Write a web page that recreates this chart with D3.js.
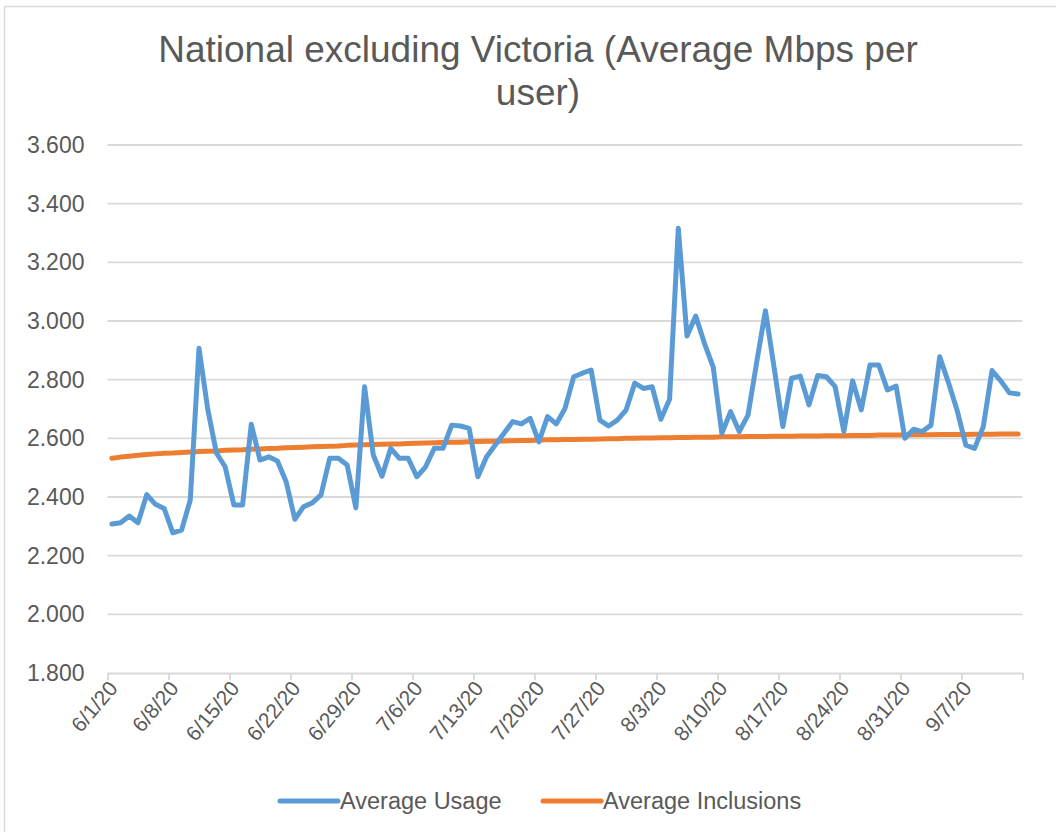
<!DOCTYPE html>
<html>
<head>
<meta charset="utf-8">
<script src="https://cdn.jsdelivr.net/npm/d3@7"></script>
<style>
  html, body { margin: 0; padding: 0; background: #ffffff; }
  svg { display: block; font-family: "Liberation Sans", Arial, sans-serif; }
</style>
</head>
<body>
<svg id="chart" width="1056" height="832"></svg>
<script>
// ---- data ----
const startDate = "2020-06-01";
const seriesNames = ["Average Usage", "Average Inclusions"];
const averageUsage = [
  2.308, 2.312, 2.335, 2.312, 2.408, 2.375, 2.361, 2.278, 2.287, 2.390,
  2.907, 2.700, 2.550, 2.503, 2.373, 2.373, 2.648, 2.526, 2.537, 2.523,
  2.452, 2.324, 2.367, 2.380, 2.407, 2.532, 2.532, 2.509, 2.363, 2.776,
  2.543, 2.471, 2.566, 2.532, 2.532, 2.469, 2.503, 2.566, 2.566, 2.645,
  2.642, 2.634, 2.469, 2.537, 2.577, 2.617, 2.657, 2.649, 2.668, 2.588,
  2.674, 2.649, 2.702, 2.810, 2.822, 2.833, 2.662, 2.642, 2.662, 2.696,
  2.788, 2.770, 2.776, 2.665, 2.733, 3.316, 2.949, 3.017, 2.924, 2.844,
  2.617, 2.691, 2.623, 2.679, 2.860, 3.035, 2.840, 2.640, 2.805, 2.812,
  2.714, 2.814, 2.810, 2.776, 2.623, 2.796, 2.697, 2.850, 2.850, 2.765,
  2.778, 2.600, 2.631, 2.623, 2.645, 2.878, 2.790, 2.695, 2.577, 2.566,
  2.640, 2.831, 2.796, 2.755, 2.751
];
const averageInclusions = [
  2.532, 2.536, 2.539, 2.542, 2.545, 2.547, 2.549,
  2.550, 2.552, 2.553, 2.555, 2.556, 2.557, 2.559,
  2.560, 2.561, 2.563, 2.564, 2.565, 2.566, 2.568,
  2.569, 2.570, 2.571, 2.572, 2.573, 2.574, 2.576,
  2.577, 2.578, 2.579, 2.580, 2.581, 2.581, 2.582,
  2.583, 2.584, 2.585, 2.586, 2.587, 2.587, 2.588,
  2.589, 2.590, 2.590, 2.591, 2.592, 2.593, 2.593,
  2.594, 2.595, 2.595, 2.596, 2.596, 2.597, 2.597,
  2.598, 2.599, 2.599, 2.600, 2.600, 2.601, 2.601,
  2.602, 2.602, 2.603, 2.603, 2.604, 2.604, 2.604,
  2.605, 2.605, 2.605, 2.606, 2.606, 2.606, 2.607,
  2.607, 2.607, 2.608, 2.608, 2.608, 2.609, 2.609,
  2.609, 2.610, 2.610, 2.610, 2.611, 2.611, 2.611,
  2.611, 2.612, 2.612, 2.612, 2.613, 2.613, 2.613,
  2.613, 2.614, 2.614, 2.614, 2.615, 2.615, 2.615
];
const xTickLabels = ["6/1/20","6/8/20","6/15/20","6/22/20","6/29/20","7/6/20","7/13/20",
  "7/20/20","7/27/20","8/3/20","8/10/20","8/17/20","8/24/20","8/31/20","9/7/20"];
const yTicks = [1.8, 2.0, 2.2, 2.4, 2.6, 2.8, 3.0, 3.2, 3.4, 3.6];
const titleLines = ["National excluding Victoria (Average Mbps per", "user)"];

// ---- layout ----
const svg = d3.select("#chart");
const W = 1056, H = 832;
const plot = { left: 107.5, right: 1022.5, top: 145, bottom: 673 };
const colors = { usage: "#5b9bd5", incl: "#ed7d31", grid: "#d9d9d9", text: "#595959" };
const FONT = "'Liberation Sans', Arial, sans-serif";

svg.append("rect").attr("x", 4.5).attr("y", 6.5).attr("width", W + 10).attr("height", H + 10)
  .attr("fill", "#fff").attr("stroke", "#d9d9d9").attr("stroke-width", 1.5);

const day0 = d3.utcParse("%Y-%m-%d")(startDate);
const nDays = averageUsage.length; // 6/1 .. 9/13
const x = d3.scaleUtc()
  .domain([day0, d3.utcDay.offset(day0, nDays)])
  .range([plot.left, plot.right]);
const y = d3.scaleLinear().domain([1.8, 3.6]).range([plot.bottom, plot.top]);

// title
svg.append("g").selectAll("text").data(titleLines).join("text")
  .attr("x", 538).attr("y", (d, i) => 62 + i * 43)
  .attr("text-anchor", "middle")
  .attr("fill", colors.text)
  .attr("font-size", 37)
  .text(d => d);

// gridlines
svg.append("g").selectAll("line").data(yTicks.filter(v => v > 1.8)).join("line")
  .attr("x1", plot.left).attr("x2", plot.right)
  .attr("y1", d => y(d)).attr("y2", d => y(d))
  .attr("stroke", colors.grid).attr("stroke-width", 1.8);

// y axis
const yAxis = svg.append("g").attr("transform", `translate(${plot.left},0)`)
  .call(d3.axisLeft(y).tickValues(yTicks).tickFormat(d3.format(".3f")).tickSize(0).tickPadding(23));
yAxis.select(".domain").remove();
yAxis.selectAll("text").attr("fill", colors.text).attr("font-size", 23).attr("font-family", FONT);

// x axis
const tickDates = d3.range(0, nDays + 1, 7).map(i => d3.utcDay.offset(day0, i));
const xAxis = svg.append("g").attr("transform", `translate(0,${plot.bottom})`)
  .call(d3.axisBottom(x).tickValues(tickDates).tickSize(7).tickSizeOuter(0)
    .tickFormat((d, i) => xTickLabels[i] || ""));
xAxis.select(".domain").attr("stroke", colors.grid).attr("stroke-width", 1.8);
xAxis.selectAll(".tick line").attr("stroke", colors.grid).attr("stroke-width", 1.8);
xAxis.selectAll("text")
  .attr("fill", colors.text).attr("font-size", 21).attr("font-family", FONT)
  .attr("text-anchor", "end")
  .attr("dy", "0.35em")
  .attr("transform", "translate(5,11) rotate(-50)")
  .attr("y", 0).attr("x", 0);

// lines
const mid = i => d3.utcHour.offset(d3.utcDay.offset(day0, i), 12);
const line = d3.line().x((d, i) => x(mid(i))).y(d => y(d));
svg.append("path").datum(averageInclusions)
  .attr("d", line).attr("fill", "none").attr("stroke", colors.incl)
  .attr("stroke-width", 5).attr("stroke-linejoin", "round").attr("stroke-linecap", "round");
svg.append("path").datum(averageUsage)
  .attr("d", line).attr("fill", "none").attr("stroke", colors.usage)
  .attr("stroke-width", 5).attr("stroke-linejoin", "round").attr("stroke-linecap", "round");

// legend
const legend = [
  { name: seriesNames[0], color: colors.usage, x: 280 },
  { name: seriesNames[1], color: colors.incl, x: 543 }
];
const lg = svg.append("g").selectAll("g").data(legend).join("g")
  .attr("transform", d => `translate(${d.x},801)`);
lg.append("line").attr("x1", 0).attr("x2", 58).attr("y1", 0).attr("y2", 0)
  .attr("stroke", d => d.color).attr("stroke-width", 5).attr("stroke-linecap", "round");
lg.append("text").attr("x", 60).attr("y", 0).attr("dy", "0.35em")
  .attr("fill", colors.text).attr("font-size", 23.5).attr("font-family", FONT).text(d => d.name);
</script>
</body>
</html>
